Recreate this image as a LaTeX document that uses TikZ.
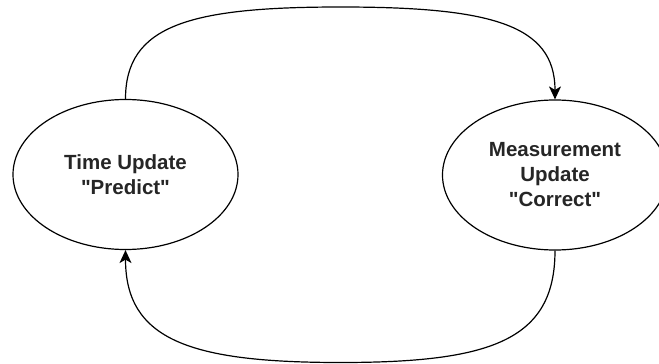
\documentclass[tikz,border=0pt]{standalone}
\usepackage{fontspec}
\setmainfont{Liberation Sans}
\usetikzlibrary{arrows.meta,shapes.geometric}
\newcommand{\sq}{\textquotedbl}
\tikzset{
  state/.style={ellipse, draw=black, line width=1.2pt, fill=white,
    minimum width=225pt, minimum height=150pt, inner sep=0pt,
    align=center, text=black!85,
    font=\fontsize{20.5}{25}\selectfont\bfseries},
  loopline/.style={draw=black, line width=1.2pt,
    -{Stealth[length=13pt, width=12pt, inset=3.5pt]}}
}
\begin{document}
\begin{tikzpicture}[x=1pt, y=-1pt]
  \clip (0,0) rectangle (659,364);
  \fill[white] (0,0) rectangle (659,364);

  % the two filter stages
  \node[state] (tu) at (125.5,174.5) {Time Update\\\sq Predict\sq};
  \node[state] (mu) at (555,175) {Measurement\\Update\\\sq Correct\sq};

  % turning points of the two loop arcs
  \coordinate (top) at (340.5,7);
  \coordinate (bot) at (340.5,362.5);

  % predict -> correct, over the top
  \draw[loopline] (tu.north) .. controls +(0,-74) and +(-150,0) .. (top)
                             .. controls +(150,0) and +(0,-75) .. (mu.north);
  % correct -> predict, along the bottom
  \draw[loopline] (mu.south) .. controls +(0,90) and +(150,0) .. (bot)
                             .. controls +(-150,0) and +(0,90) .. (tu.south);
\end{tikzpicture}
\end{document}
